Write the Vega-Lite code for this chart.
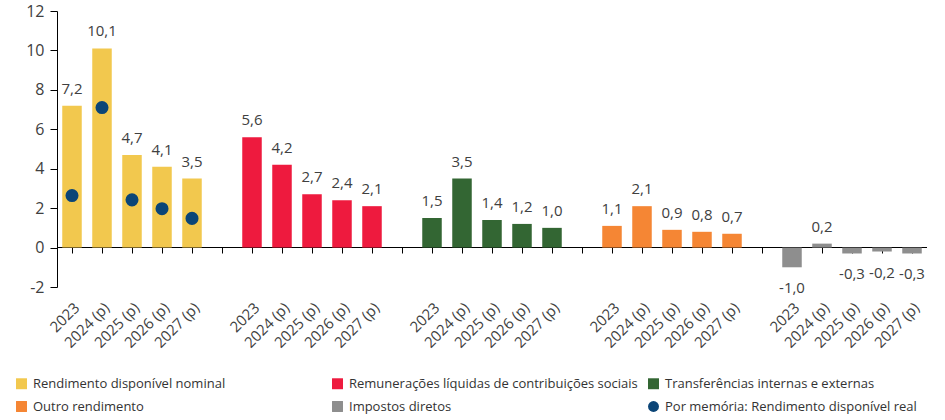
{
  "$schema": "https://vega.github.io/schema/vega-lite/v6.json",
  "width": 870,
  "height": 276,
  "padding": {"left": 15, "top": 3, "right": 0, "bottom": 0},
  "config": {
    "view": {"stroke": null},
    "axis": {"grid": false, "domainColor": "#000000", "tickColor": "#000000", "labelColor": "#404040", "labelFont": "Open Sans", "labelFontSize": 16}
  },
  "data": {"values": [
      {"cat": "1|2023", "kind": "bar", "series": "Rendimento disponível nominal", "amount": 7.2},
      {"cat": "1|2024 (p)", "kind": "bar", "series": "Rendimento disponível nominal", "amount": 10.1},
      {"cat": "1|2025 (p)", "kind": "bar", "series": "Rendimento disponível nominal", "amount": 4.7},
      {"cat": "1|2026 (p)", "kind": "bar", "series": "Rendimento disponível nominal", "amount": 4.1},
      {"cat": "1|2027 (p)", "kind": "bar", "series": "Rendimento disponível nominal", "amount": 3.5},
      {"cat": "2|2023", "kind": "bar", "series": "Remunerações líquidas de contribuições sociais", "amount": 5.6},
      {"cat": "2|2024 (p)", "kind": "bar", "series": "Remunerações líquidas de contribuições sociais", "amount": 4.2},
      {"cat": "2|2025 (p)", "kind": "bar", "series": "Remunerações líquidas de contribuições sociais", "amount": 2.7},
      {"cat": "2|2026 (p)", "kind": "bar", "series": "Remunerações líquidas de contribuições sociais", "amount": 2.4},
      {"cat": "2|2027 (p)", "kind": "bar", "series": "Remunerações líquidas de contribuições sociais", "amount": 2.1},
      {"cat": "3|2023", "kind": "bar", "series": "Transferências internas e externas", "amount": 1.5},
      {"cat": "3|2024 (p)", "kind": "bar", "series": "Transferências internas e externas", "amount": 3.5},
      {"cat": "3|2025 (p)", "kind": "bar", "series": "Transferências internas e externas", "amount": 1.4},
      {"cat": "3|2026 (p)", "kind": "bar", "series": "Transferências internas e externas", "amount": 1.2},
      {"cat": "3|2027 (p)", "kind": "bar", "series": "Transferências internas e externas", "amount": 1.0},
      {"cat": "4|2023", "kind": "bar", "series": "Outro rendimento", "amount": 1.1},
      {"cat": "4|2024 (p)", "kind": "bar", "series": "Outro rendimento", "amount": 2.1},
      {"cat": "4|2025 (p)", "kind": "bar", "series": "Outro rendimento", "amount": 0.9},
      {"cat": "4|2026 (p)", "kind": "bar", "series": "Outro rendimento", "amount": 0.8},
      {"cat": "4|2027 (p)", "kind": "bar", "series": "Outro rendimento", "amount": 0.7},
      {"cat": "5|2023", "kind": "bar", "series": "Impostos diretos", "amount": -1.0},
      {"cat": "5|2024 (p)", "kind": "bar", "series": "Impostos diretos", "amount": 0.2},
      {"cat": "5|2025 (p)", "kind": "bar", "series": "Impostos diretos", "amount": -0.3},
      {"cat": "5|2026 (p)", "kind": "bar", "series": "Impostos diretos", "amount": -0.2},
      {"cat": "5|2027 (p)", "kind": "bar", "series": "Impostos diretos", "amount": -0.3},
      {"cat": "1|2023", "kind": "dot", "series": "Por memória: Rendimento disponível real", "amount": 2.64},
      {"cat": "1|2024 (p)", "kind": "dot", "series": "Por memória: Rendimento disponível real", "amount": 7.1},
      {"cat": "1|2025 (p)", "kind": "dot", "series": "Por memória: Rendimento disponível real", "amount": 2.42},
      {"cat": "1|2026 (p)", "kind": "dot", "series": "Por memória: Rendimento disponível real", "amount": 1.97},
      {"cat": "1|2027 (p)", "kind": "dot", "series": "Por memória: Rendimento disponível real", "amount": 1.48}
  ]},
  "encoding": {
    "x": {
      "field": "cat", "type": "nominal", "title": null,
      "scale": {
        "domain": ["1|2023","1|2024 (p)","1|2025 (p)","1|2026 (p)","1|2027 (p)","g1",
                   "2|2023","2|2024 (p)","2|2025 (p)","2|2026 (p)","2|2027 (p)","g2",
                   "3|2023","3|2024 (p)","3|2025 (p)","3|2026 (p)","3|2027 (p)","g3",
                   "4|2023","4|2024 (p)","4|2025 (p)","4|2026 (p)","4|2027 (p)","g4",
                   "5|2023","5|2024 (p)","5|2025 (p)","5|2026 (p)","5|2027 (p)"],
        "paddingInner": 0.35, "paddingOuter": 0.175
      },
      "axis": {
        "offset": -40, "tickSize": 6, "labelPadding": 47,
        "labelAngle": -45, "labelAlign": "right", "labelBaseline": "top", "labelFontSize": 15,
        "labelExpr": "indexof(datum.value, '|') >= 0 ? split(datum.value, '|')[1] : ''"
      }
    },
    "y": {
      "field": "amount", "type": "quantitative", "title": null,
      "scale": {"domain": [-2, 12]},
      "axis": {"tickSize": 7, "labelPadding": 6, "labelExpr": "replace(datum.label, '−', '-')"}
    }
  },
  "layer": [
    {
      "transform": [{"filter": "datum.kind == 'bar'"}],
      "mark": {"type": "bar"},
      "encoding": {
        "color": {
          "field": "series", "type": "nominal",
          "scale": {
            "domain": ["Rendimento disponível nominal", "Outro rendimento", "Remunerações líquidas de contribuições sociais", "Impostos diretos", "Transferências internas e externas", "Por memória: Rendimento disponível real"],
            "range": ["#F2C84E", "#F58634", "#EE1A3E", "#8E8E8E", "#336633", "#0B4577"]
          },
          "legend": {
            "orient": "none", "legendX": -42, "legendY": 366, "columns": 3, "gridAlign": "all",
            "title": null, "labelFont": "Open Sans", "labelFontSize": 13, "labelColor": "#333333",
            "symbolSize": 120, "symbolStrokeWidth": 0, "columnPadding": 9, "rowPadding": 9, "labelLimit": 400, "labelOffset": 5
          }
        }
      }
    },
    {
      "transform": [{"filter": "datum.kind == 'bar' && datum.amount >= 0"}],
      "mark": {"type": "text", "baseline": "middle", "dy": -17, "fontSize": 15, "color": "#404040", "font": "Open Sans",
               "text": {"expr": "replace(format(datum.amount, '.1f'), '.', ',')"}}
    },
    {
      "transform": [{"filter": "datum.kind == 'bar' && datum.amount < 0"}],
      "mark": {"type": "text", "baseline": "middle", "dy": 21, "fontSize": 15, "color": "#404040", "font": "Open Sans",
               "text": {"expr": "replace(replace(format(datum.amount, '.1f'), '.', ','), '−', '-')"}}
    },
    {
      "transform": [{"filter": "datum.kind == 'dot'"}],
      "mark": {"type": "point", "filled": true, "opacity": 1, "size": 170},
      "encoding": {
        "color": {"field": "series", "type": "nominal"},
        "shape": {
          "field": "series", "type": "nominal",
          "scale": {
            "domain": ["Rendimento disponível nominal", "Outro rendimento", "Remunerações líquidas de contribuições sociais", "Impostos diretos", "Transferências internas e externas", "Por memória: Rendimento disponível real"],
            "range": ["square", "square", "square", "square", "square", "circle"]
          },
          "legend": {
            "orient": "none", "legendX": -42, "legendY": 366, "columns": 3, "gridAlign": "all",
            "title": null, "labelFont": "Open Sans", "labelFontSize": 13, "labelColor": "#333333",
            "symbolSize": 120, "symbolStrokeWidth": 0, "columnPadding": 9, "rowPadding": 9, "labelLimit": 400, "labelOffset": 5
          }
        }
      }
    }
  ]
}
